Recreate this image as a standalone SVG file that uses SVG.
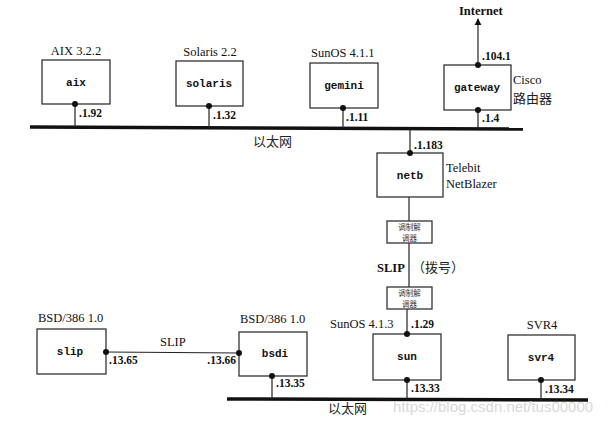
<svg xmlns="http://www.w3.org/2000/svg" width="613" height="425" viewBox="0 0 613 425">
<defs>
<style>
.box{fill:#fff;stroke:#333;stroke-width:1.3}
.bus{stroke:#111;stroke-width:3.5;fill:none}
.ln{stroke:#222;stroke-width:1.2;fill:none}
.dot{fill:#111}
.os{font-family:"Liberation Serif",serif;font-size:12.5px;fill:#111}
.nm{font-family:"Liberation Mono",monospace;font-weight:bold;font-size:11px;fill:#111}
.ip{font-family:"Liberation Serif",serif;font-weight:bold;font-size:11.5px;fill:#111}
.cn{font-family:"Noto Sans CJK SC",sans-serif;font-size:13px;fill:#222}
.md{font-family:"Noto Sans CJK SC",sans-serif;font-size:7.5px;fill:#333}
.wm{font-family:"Liberation Sans",sans-serif;font-size:15px;fill:#d8d8d8}
</style>
<marker id="ah" viewBox="0 0 10 10" refX="9" refY="5" markerWidth="7" markerHeight="9" orient="auto" markerUnits="userSpaceOnUse">
<path d="M0,0 L10,5 L0,10 z" fill="#111"/>
</marker>
</defs>
<rect width="613" height="425" fill="#fff"/>
<g id="connectors">
<line class="bus" x1="30" y1="127" x2="523" y2="129"/>
<line class="bus" x1="227" y1="399" x2="588" y2="400"/>
<line class="ln" x1="75" y1="104" x2="75" y2="127"/>
<line class="ln" x1="209" y1="106" x2="209" y2="128"/>
<line class="ln" x1="343" y1="108" x2="343" y2="128"/>
<line class="ln" x1="478" y1="110" x2="478" y2="129"/>
<line class="ln" x1="478" y1="65" x2="478" y2="19" marker-end="url(#ah)"/>
<line class="ln" x1="410" y1="129" x2="410" y2="153"/>
<line class="ln" x1="409" y1="197" x2="409" y2="221"/>
<line class="ln" x1="409" y1="243" x2="409" y2="287"/>
<line class="ln" x1="407" y1="309" x2="407" y2="334"/>
<line class="ln" x1="407" y1="380" x2="407" y2="400"/>
<line class="ln" x1="541" y1="380" x2="541" y2="400"/>
<line class="ln" x1="272" y1="376" x2="272" y2="399"/>
<line class="ln" x1="106" y1="352" x2="239" y2="353"/>
<text class="cn" x="253" y="146">以太网</text>
<text class="cn" x="328" y="413">以太网</text>
<text class="os" x="377" y="272" font-weight="bold">SLIP</text>
<text class="cn" x="412" y="272">（拨号）</text>
<text class="os" x="160" y="346">SLIP</text>
<text class="os" x="459" y="15" font-weight="bold" font-size="11.5">Internet</text>
</g>
<g id="aix">
<rect class="box" x="42" y="60" width="68" height="44"/>
<text class="nm" x="76" y="86" text-anchor="middle">aix</text>
<text class="os" x="76" y="55" text-anchor="middle">AIX 3.2.2</text>
<circle class="dot" cx="75" cy="104" r="3"/>
<text class="ip" x="79" y="117">.1.92</text>
</g>
<g id="solaris">
<rect class="box" x="176" y="61" width="67" height="45"/>
<text class="nm" x="209" y="87" text-anchor="middle">solaris</text>
<text class="os" x="210" y="56" text-anchor="middle">Solaris 2.2</text>
<circle class="dot" cx="209" cy="106" r="3"/>
<text class="ip" x="213" y="119">.1.32</text>
</g>
<g id="gemini">
<rect class="box" x="310" y="63" width="68" height="45"/>
<text class="nm" x="344" y="89" text-anchor="middle">gemini</text>
<text class="os" x="311" y="57">SunOS 4.1.1</text>
<circle class="dot" cx="343" cy="108" r="3"/>
<text class="ip" x="346" y="121">.1.11</text>
</g>
<g id="gateway">
<rect class="box" x="444" y="65" width="67" height="45"/>
<text class="nm" x="477" y="91" text-anchor="middle">gateway</text>
<circle class="dot" cx="478" cy="65" r="3"/>
<circle class="dot" cx="478" cy="110" r="3"/>
<text class="ip" x="482" y="60">.104.1</text>
<text class="ip" x="482" y="122">.1.4</text>
<text class="os" x="513" y="84">Cisco</text>
<text class="cn" x="513" y="103">路由器</text>
</g>
<g id="netb">
<rect class="box" x="377" y="153" width="66" height="44"/>
<text class="nm" x="410" y="179" text-anchor="middle">netb</text>
<circle class="dot" cx="410" cy="153" r="3"/>
<text class="ip" x="414" y="149">.1.183</text>
<text class="os" x="446" y="172">Telebit</text>
<text class="os" x="446" y="188">NetBlazer</text>
</g>
<g id="modem1">
<rect class="box" x="387" y="221" width="45" height="22"/>
<text class="md" x="409.5" y="230" text-anchor="middle">调制解</text>
<text class="md" x="409.5" y="240.5" text-anchor="middle">调器</text>
</g>
<g id="modem2">
<rect class="box" x="387" y="287" width="45" height="22"/>
<text class="md" x="409.5" y="296" text-anchor="middle">调制解</text>
<text class="md" x="409.5" y="306.5" text-anchor="middle">调器</text>
</g>
<g id="slip">
<rect class="box" x="37" y="329" width="69" height="45"/>
<text class="nm" x="70" y="355" text-anchor="middle">slip</text>
<text class="os" x="38" y="322">BSD/386 1.0</text>
<circle class="dot" cx="106" cy="352" r="3"/>
<text class="ip" x="109" y="364">.13.65</text>
</g>
<g id="bsdi">
<rect class="box" x="239" y="332" width="68" height="44"/>
<text class="nm" x="275" y="357" text-anchor="middle">bsdi</text>
<text class="os" x="240" y="323">BSD/386 1.0</text>
<circle class="dot" cx="239" cy="353" r="3"/>
<circle class="dot" cx="272" cy="376" r="3"/>
<text class="ip" x="236" y="364" text-anchor="end">.13.66</text>
<text class="ip" x="276" y="387">.13.35</text>
</g>
<g id="sun">
<rect class="box" x="373" y="334" width="68" height="46"/>
<text class="nm" x="407" y="360" text-anchor="middle">sun</text>
<text class="os" x="330" y="328">SunOS 4.1.3</text>
<circle class="dot" cx="407" cy="334" r="3"/>
<circle class="dot" cx="407" cy="380" r="3"/>
<text class="ip" x="411" y="328">.1.29</text>
<text class="ip" x="411" y="392">.13.33</text>
</g>
<g id="svr4">
<rect class="box" x="508" y="335" width="67" height="45"/>
<text class="nm" x="541" y="361" text-anchor="middle">svr4</text>
<text class="os" x="542" y="329" text-anchor="middle">SVR4</text>
<circle class="dot" cx="541" cy="380" r="3"/>
<text class="ip" x="545" y="393">.13.34</text>
</g>
<text class="wm" x="393" y="412">https://blog.csdn.net/tus00000</text>
</svg>
